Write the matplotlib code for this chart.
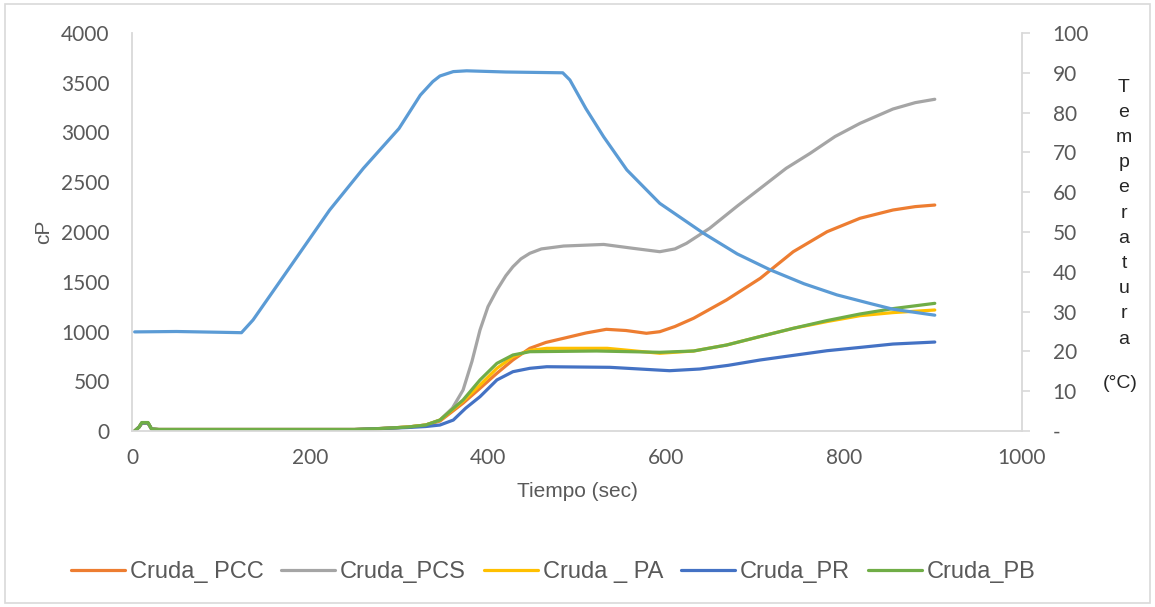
import matplotlib
matplotlib.use("Agg")
import matplotlib.pyplot as plt
from matplotlib.patches import Rectangle

# viscosity series (time in sec, value in cP)
t_pcc = [3, 8, 11, 18, 22, 30, 100, 200, 250, 280, 310, 330, 346, 372, 391, 410, 428, 447, 465, 485,
         510, 533, 555, 578, 593, 610, 631, 668, 706, 743, 781, 818, 855, 880, 902]
v_pcc = [0, 40, 80, 80, 20, 15, 15, 15, 15, 25, 40, 60, 100, 280, 429, 580, 714, 831, 890, 932,
         985, 1022, 1010, 982, 998, 1050, 1133, 1317, 1535, 1802, 2003, 2138, 2221, 2255, 2271]

t_pcs = [3, 8, 11, 18, 22, 30, 100, 200, 250, 280, 310, 330, 346, 360, 372, 382, 391, 400, 410, 420,
         428, 437, 447, 460, 485, 530, 563, 593, 610, 623, 649, 680, 706, 735, 762, 790, 818, 855, 880, 902]
v_pcs = [0, 40, 80, 80, 20, 15, 15, 15, 15, 25, 40, 60, 110, 230, 412, 700, 1015, 1250, 1417, 1560,
         1651, 1730, 1786, 1830, 1859, 1875, 1836, 1802, 1830, 1886, 2037, 2260, 2439, 2640, 2791, 2960,
         3092, 3236, 3300, 3334]

t_pa = [3, 8, 11, 18, 22, 30, 100, 200, 250, 280, 310, 330, 346, 372, 391, 410, 428, 447, 466, 534,
        593, 631, 668, 706, 743, 781, 818, 855, 902]
v_pa = [0, 40, 80, 80, 20, 15, 15, 15, 15, 25, 40, 60, 110, 300, 462, 630, 747, 810, 831, 831,
        781, 804, 864, 950, 1032, 1100, 1159, 1190, 1216]

t_pr = [3, 8, 11, 18, 22, 30, 100, 200, 250, 280, 310, 330, 346, 361, 375, 391, 410, 428, 447, 466,
        537, 604, 638, 670, 706, 743, 781, 818, 855, 902]
v_pr = [0, 40, 80, 80, 20, 15, 15, 15, 15, 25, 35, 45, 60, 110, 230, 345, 513, 596, 630, 646,
        640, 606, 623, 660, 714, 760, 807, 840, 874, 894]

t_pb = [3, 8, 11, 18, 22, 30, 100, 200, 250, 280, 310, 330, 346, 372, 391, 410, 428, 447, 522, 593,
        631, 668, 706, 743, 781, 818, 855, 902]
v_pb = [0, 40, 85, 85, 20, 15, 15, 15, 15, 25, 40, 60, 110, 312, 513, 680, 764, 797, 804, 791,
        804, 864, 950, 1032, 1110, 1176, 1230, 1283]

# temperature (deg C), secondary axis
t_temp = [3, 50, 100, 123, 136, 180, 222, 260, 300, 324, 338, 346, 361, 376, 420, 484, 492, 510, 530,
          556, 593, 642, 680, 717, 755, 792, 830, 855, 902]
v_temp = [24.9, 25.0, 24.8, 24.7, 27.9, 42.0, 55.5, 66.0, 76.0, 84.4, 87.8, 89.2, 90.3, 90.5, 90.2, 90.0,
          88.2, 81.0, 73.9, 65.6, 57.2, 49.7, 44.5, 40.5, 37.0, 34.2, 32.0, 30.6, 29.1]

names = ["Cruda_ PCC", "Cruda_PCS", "Cruda _ PA", "Cruda_PR", "Cruda_PB"]
colors = ["#ED7D31", "#A5A5A5", "#FFC000", "#4472C4", "#70AD47"]
temp_color = "#5B9BD5"

x_ticks = [0, 200, 400, 600, 800, 1000]
y_ticks = [0, 500, 1000, 1500, 2000, 2500, 3000, 3500, 4000]
t_ticks = [0, 10, 20, 30, 40, 50, 60, 70, 80, 90, 100]
t_labels = ["-", "10", "20", "30", "40", "50", "60", "70", "80", "90", "100"]

txt = "#595959"
axis_col = "#D9D9D9"
num_font = "Lato"
lab_font = "Liberation Sans"

fig = plt.figure(figsize=(11.55, 6.07), dpi=100)
ax = fig.add_axes([132 / 1155, 1 - 431 / 607, (1022 - 132) / 1155, (431 - 33) / 607])

series = [(t_pcc, v_pcc), (t_pcs, v_pcs), (t_pa, v_pa), (t_pr, v_pr), (t_pb, v_pb)]
lines = []
for (tt, vv), nm, c in zip(series, names, colors):
    ln, = ax.plot(tt, vv, color=c, lw=2.3, label=nm, solid_capstyle="round", solid_joinstyle="round")
    lines.append(ln)

ax.set_xlim(0, 1000)
ax.set_ylim(0, 4000)
ax.set_xticks(x_ticks)
ax.set_yticks(y_ticks)
ax.tick_params(axis="both", length=0, labelcolor=txt, labelsize=15)
ax.tick_params(axis="y", pad=16)
ax.tick_params(axis="x", pad=12)
for lbl in ax.get_xticklabels() + ax.get_yticklabels():
    lbl.set_fontfamily(num_font)
for s in ["top", "right"]:
    ax.spines[s].set_visible(False)
for s in ["left", "bottom"]:
    ax.spines[s].set_color(axis_col)
    ax.spines[s].set_linewidth(1.3)

ax.set_xlabel("Tiempo (sec)", fontsize=15, color=txt, family=lab_font, labelpad=10)
ax.set_ylabel("cP", fontsize=15, color=txt, family=lab_font, labelpad=6)

ax2 = ax.twinx()
ax2.plot(t_temp, v_temp, color=temp_color, lw=2.3, solid_capstyle="round", solid_joinstyle="round")
ax2.set_ylim(0, 100)
ax2.set_yticks(t_ticks)
ax2.set_yticklabels(t_labels)
ax2.tick_params(axis="y", length=6, width=1.2, color=axis_col, labelcolor=txt, labelsize=15, pad=16)
for lbl in ax2.get_yticklabels():
    lbl.set_fontfamily(num_font)
    lbl.set_horizontalalignment("left")
for s in ["top", "left", "bottom"]:
    ax2.spines[s].set_visible(False)
ax2.spines["right"].set_color(axis_col)
ax2.spines["right"].set_linewidth(1.3)

# stacked vertical label of the right axis
letters = list("Temperatura")
for i, ch in enumerate(letters):
    fig.text(1124 / 1155, 1 - (87 + i * 25.2) / 607, ch, ha="center", va="center",
             fontsize=14, color="#262626", family=lab_font)
fig.text(1120 / 1155, 1 - 383 / 607, "(°C)", ha="center", va="center",
         fontsize=14, color="#262626", family=lab_font)

fig.legend(handles=lines, loc="center", bbox_to_anchor=(553 / 1155, 1 - 572 / 607), ncol=5,
           frameon=False, prop={"family": lab_font, "size": 17}, labelcolor=txt,
           handlelength=2.3, handletextpad=0.2, columnspacing=0.75)

fig.patches.append(Rectangle((5 / 1155, 4 / 607), 1145 / 1155, 599 / 607, transform=fig.transFigure,
                             fill=False, edgecolor=axis_col, lw=1.2))

fig.savefig("out.png", dpi=100, facecolor="white")
